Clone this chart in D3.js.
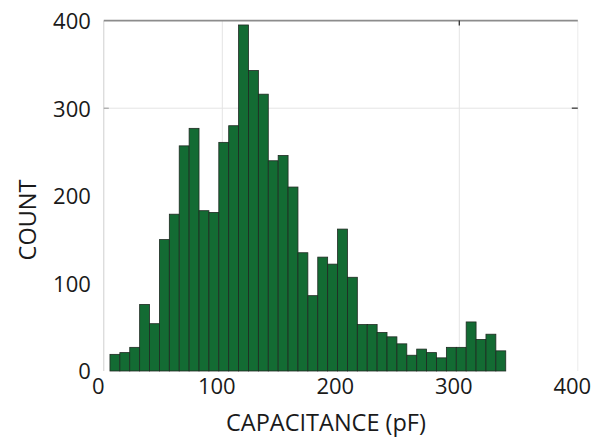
<!DOCTYPE html>
<html>
<head>
<meta charset="utf-8">
<script src="https://cdn.jsdelivr.net/npm/d3@7"></script>
<style>
  html, body { margin: 0; padding: 0; background: #fff; }
  svg { display: block; }
  .tick text { font-family: "Open Sans", sans-serif; fill: #1a1a1a; }
</style>
</head>
<body>
<svg id="chart" width="592" height="445"></svg>
<script>
// Histogram of measured capacitance: 40 equal-width bins
const binStart = 5.2;      // left edge of the first bin (pF)
const binWidth = 8.35;     // bin width (pF)
const counts = [
  19, 21, 27, 76, 54, 150, 179, 257, 277, 183,
  181, 261, 280, 395, 343, 316, 240, 246, 210, 135,
  86, 130, 122, 162, 107, 53, 53, 44, 39, 31,
  18, 25, 21, 15, 27, 27, 56, 36, 42, 23
];
const xTicks = [0, 100, 200, 300, 400];
const yTicks = [0, 100, 200, 300, 400];
const xLabel = "CAPACITANCE (pF)";
const yLabel = "COUNT";

const bins = counts.map((c, i) => ({
  x0: binStart + i * binWidth,
  x1: binStart + (i + 1) * binWidth,
  count: c
}));

const plot = { left: 103.8, right: 577.8, top: 20.6, bottom: 371 };

const svg = d3.select("#chart");
const x = d3.scaleLinear().domain([0, 400]).range([plot.left, plot.right]);
const y = d3.scaleLinear().domain([0, 400]).range([plot.bottom, plot.top]);

// light grid lines
const grid = svg.append("g").attr("stroke", "#e4e4e4").attr("stroke-width", 1);
[100, 300].forEach(v => grid.append("line")
  .attr("x1", x(v)).attr("x2", x(v)).attr("y1", plot.top).attr("y2", plot.bottom));
grid.append("line").attr("x1", plot.left).attr("x2", plot.right)
  .attr("y1", y(300)).attr("y2", y(300));

// frame
svg.append("line").attr("x1", plot.left).attr("x2", plot.left)
  .attr("y1", plot.top).attr("y2", plot.bottom)
  .attr("stroke", "#cfcfcf").attr("stroke-width", 1);
svg.append("line").attr("x1", plot.right).attr("x2", plot.right)
  .attr("y1", plot.top).attr("y2", plot.bottom)
  .attr("stroke", "#ececec").attr("stroke-width", 1);
svg.append("line").attr("x1", plot.left).attr("x2", plot.right)
  .attr("y1", plot.top).attr("y2", plot.top)
  .attr("stroke", "#8c8c8c").attr("stroke-width", 1.6);

// small tick marks
svg.append("line").attr("x1", x(300)).attr("x2", x(300))
  .attr("y1", plot.top).attr("y2", plot.top + 5)
  .attr("stroke", "#333").attr("stroke-width", 1.3);
svg.append("line").attr("x1", plot.right - 6).attr("x2", plot.right)
  .attr("y1", y(300)).attr("y2", y(300))
  .attr("stroke", "#555").attr("stroke-width", 1.5);
svg.append("line").attr("x1", plot.left).attr("x2", plot.left + 5)
  .attr("y1", y(300)).attr("y2", y(300))
  .attr("stroke", "#999").attr("stroke-width", 1);

// bars
svg.append("g").selectAll("rect").data(bins).join("rect")
  .attr("x", d => x(d.x0))
  .attr("width", d => x(d.x1) - x(d.x0))
  .attr("y", d => y(d.count))
  .attr("height", d => y(0) - y(d.count))
  .attr("fill", "#136b33")
  .attr("stroke", "#1f2a22")
  .attr("stroke-width", 0.8);

// axes (labels only)
const xAxis = svg.append("g").attr("transform", `translate(0,${plot.bottom})`)
  .call(d3.axisBottom(x).tickValues(xTicks).tickSize(0).tickPadding(6));
xAxis.select(".domain").remove();
xAxis.selectAll("text").attr("font-size", 22).attr("dx", -6).attr("dy", "0.75em");

const yAxis = svg.append("g").attr("transform", `translate(${plot.left},0)`)
  .call(d3.axisLeft(y).tickValues(yTicks).tickSize(0).tickPadding(13));
yAxis.select(".domain").remove();
yAxis.selectAll("text").attr("font-size", 22).attr("dy", "0.36em");

// axis titles
svg.append("text")
  .attr("x", 326).attr("y", 431)
  .attr("text-anchor", "middle")
  .attr("font-family", "Open Sans, sans-serif").attr("font-size", 23.5)
  .attr("fill", "#1a1a1a")
  .text(xLabel);

svg.append("text")
  .attr("transform", `translate(36,220) rotate(-90)`)
  .attr("text-anchor", "middle")
  .attr("font-family", "Open Sans, sans-serif").attr("font-size", 23.5)
  .attr("fill", "#1a1a1a")
  .text(yLabel);
</script>
</body>
</html>
